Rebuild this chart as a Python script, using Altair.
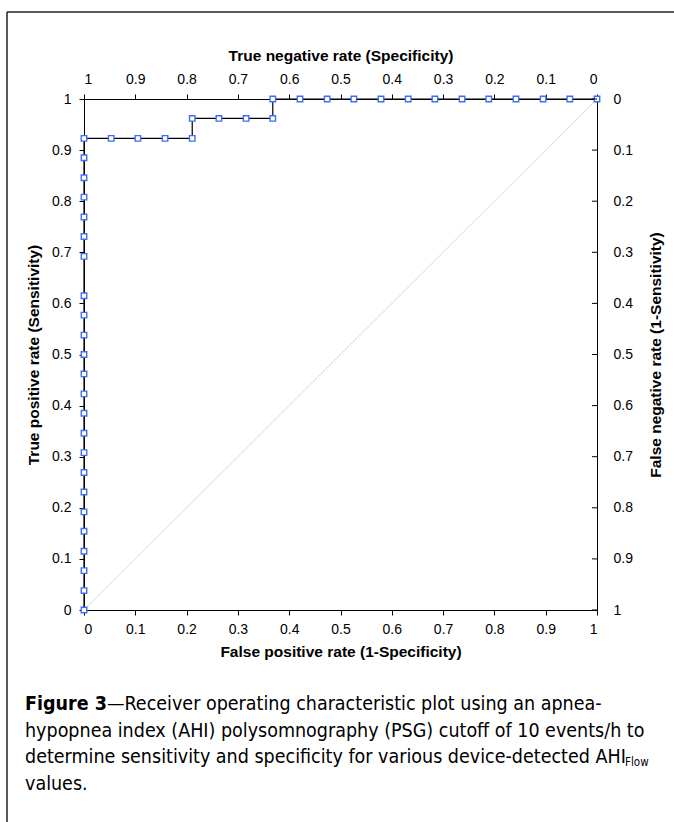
import altair as alt
import pandas as pd

# ROC points, in order along the curve
fpr = [0, 0, 0, 0, 0, 0, 0, 0, 0, 0, 0, 0, 0, 0, 0, 0, 0, 0, 0, 0, 0, 0, 0, 0,
       0.053, 0.105, 0.158, 0.211,
       0.211, 0.263, 0.316, 0.368,
       0.368, 0.421, 0.474, 0.526, 0.579, 0.632, 0.684, 0.737, 0.789, 0.842, 0.895, 0.947, 1.0]
tpr = [0, 0.038, 0.077, 0.115, 0.154, 0.192, 0.231, 0.269, 0.308, 0.346, 0.385, 0.423,
       0.462, 0.5, 0.538, 0.577, 0.615, 0.692, 0.731, 0.769, 0.808, 0.846, 0.885, 0.923,
       0.923, 0.923, 0.923, 0.923,
       0.962, 0.962, 0.962, 0.962,
       1, 1, 1, 1, 1, 1, 1, 1, 1, 1, 1, 1, 1]
diag = [0, 1]
ticks = [0, 0.1, 0.2, 0.3, 0.4, 0.5, 0.6, 0.7, 0.8, 0.9, 1]

caption_bold = "Figure 3"
caption_lines = [
    "\u2014Receiver operating characteristic plot using an apnea-",
    "hypopnea index (AHI) polysomnography (PSG) cutoff of 10 events/h to",
    "determine sensitivity and specificity for various device-detected AHI",
    "values.",
]
caption_sub = "Flow"

roc = pd.DataFrame({"fpr": fpr, "tpr": tpr, "order": list(range(len(fpr)))})
diag_df = pd.DataFrame({"a": diag, "b": diag})
tick_df = pd.DataFrame({"t": ticks})
one = pd.DataFrame({"k": [0]})

LF = "Liberation Sans, Arial, sans-serif"
W, H = 513, 511
xs = alt.Scale(domain=[0, 1], nice=False, zero=False)
ys = alt.Scale(domain=[0, 1], nice=False, zero=False)

common = dict(values=ticks, grid=False, domainColor="black", tickColor="black",
              labelColor="black", labelFont=LF, labelFontSize=14,
              titleFont=LF, titleFontSize=15.5, titleFontWeight="bold", titleColor="black",
              titleAlign="center", titleBaseline="middle")

ax_bottom = alt.Axis(orient="bottom", format="~g", tickSize=5, labelPadding=7,
                     title="False positive rate (1-Specificity)", titleX=W / 2, titleY=41,
                     **common)
ax_left = alt.Axis(orient="left", format="~g", tickSize=5, labelPadding=8,
                   title="True positive rate (Sensitivity)", titleAngle=270,
                   titleX=-51, titleY=H / 2, **common)
ax_top = alt.Axis(orient="top", labelExpr="format(1 - datum.value, '~g')", tickSize=5,
                  labelPadding=8, title="True negative rate (Specificity)",
                  titleX=W / 2, titleY=-44, **common)
ax_right = alt.Axis(orient="right", labelExpr="format(1 - datum.value, '~g')", tickSize=0,
                    labelPadding=16, title="False negative rate (1-Sensitivity)",
                    titleAngle=270, titleX=58, titleY=H / 2, **common)

diag_layer = alt.Chart(diag_df).mark_line(color="#d9d9d9", strokeWidth=1).encode(
    x=alt.X("a:Q", scale=xs, axis=None), y=alt.Y("b:Q", scale=ys, axis=None))

line_layer = alt.Chart(roc).mark_line(color="black", strokeWidth=1.2).encode(
    x=alt.X("fpr:Q", scale=xs, axis=ax_bottom),
    y=alt.Y("tpr:Q", scale=ys, axis=ax_left),
    order="order:Q")

pts_layer = alt.Chart(roc).mark_point(shape="square", filled=False, fill="white",
                                       fillOpacity=1, stroke="#3f6ef5", strokeWidth=1.4,
                                       size=30, opacity=1).encode(
    x=alt.X("fpr:Q", scale=xs, axis=ax_top),
    y=alt.Y("tpr:Q", scale=ys, axis=ax_right))

rtick_layer = alt.Chart(tick_df).mark_rule(color="black", strokeWidth=1).encode(
    y=alt.Y("t:Q", scale=ys, axis=None), x=alt.value(W - 5), x2=alt.value(W))

CF = "DejaVu Sans Condensed, Liberation Sans, Arial"
CS = 19.5


def txt(s, x, y, size=CS, weight="normal", align="left"):
    return alt.Chart(one).mark_text(text=s, font=CF, fontSize=size, fontWeight=weight,
                                    align=align, baseline="middle", color="black").encode(
        x=alt.value(x - 84), y=alt.value(y - 99))


cap_layers = [
    txt(caption_bold, 25, 704, weight="bold"),
    txt(caption_lines[0], 107, 704),
    txt(caption_lines[1], 25, 731),
    txt(caption_lines[2], 25, 757),
    txt(caption_sub, 625, 763, size=11.5),
    txt(caption_lines[3], 25, 784),
]

frame_layers = [
    alt.Chart(one).mark_rule(color="#222", strokeWidth=1.5).encode(
        x=alt.value(7 - 84), y=alt.value(12 - 99), y2=alt.value(822 - 99)),
    alt.Chart(one).mark_rule(color="#222", strokeWidth=1.5).encode(
        x=alt.value(7 - 84), x2=alt.value(674 - 84), y=alt.value(12 - 99)),
]

chart = alt.layer(diag_layer, line_layer, pts_layer, rtick_layer, *cap_layers, *frame_layers).resolve_axis(
    x="independent", y="independent"
).properties(
    width=W, height=H,
    autosize=alt.AutoSizeParams(type="none"),
    padding={"left": 84, "top": 99, "right": 77, "bottom": 212},
).configure_view(stroke=None).configure(background="white")

chart.save("out.html", embed_options={"renderer": "svg", "actions": False})
